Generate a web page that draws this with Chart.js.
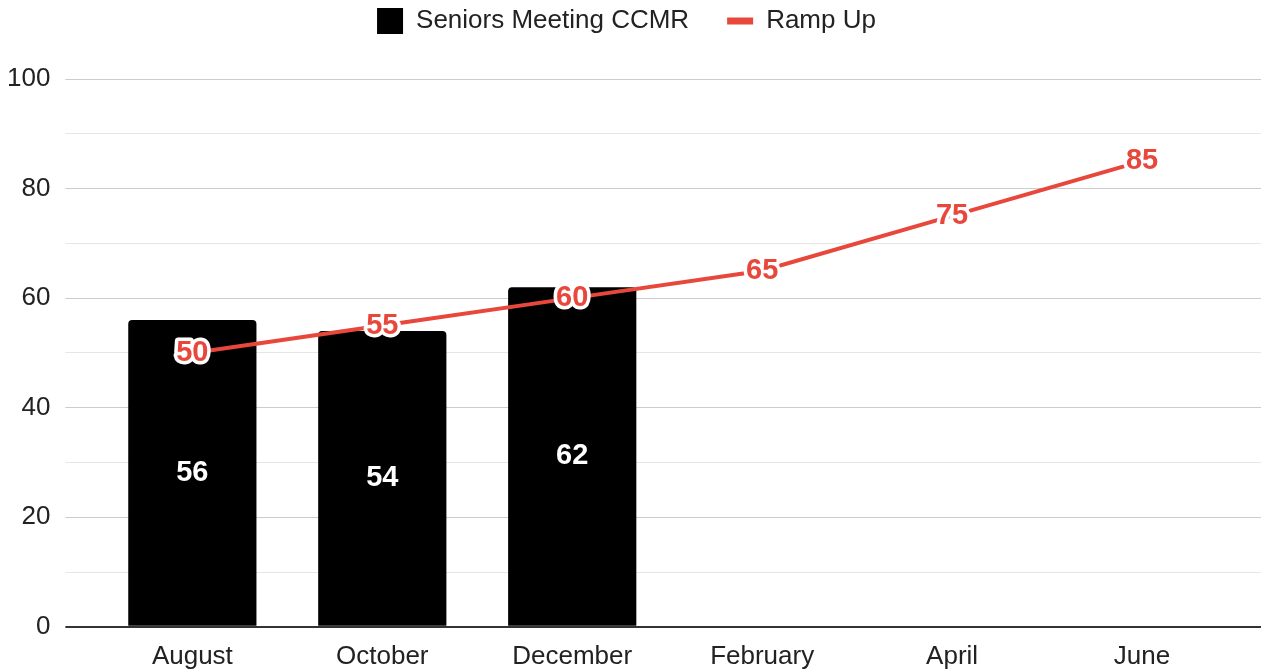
<!DOCTYPE html>
<html>
<head>
<meta charset="utf-8">
<script src="https://cdn.jsdelivr.net/npm/chart.js@4"></script>
<style>
html,body{margin:0;padding:0;background:#fff;}
</style>
</head>
<body>
<canvas id="myChart" width="1261" height="671"></canvas>
<script>
const months = ['August', 'October', 'December', 'February', 'April', 'June'];
const seniorsMeeting = [56, 54, 62, null, null, null];
const rampUp = [50, 55, 60, 65, 75, 85];

const RED = '#e8473b';
const FONT = "'Liberation Sans', Arial, sans-serif";

Chart.defaults.font.family = FONT;
Chart.defaults.font.size = 26;
Chart.defaults.color = '#222';

// push the plot down below the legend
const legendGap = {
    id: 'legendGap',
    beforeInit: function(chart) {
        const fit = chart.legend.fit;
        chart.legend.fit = function() {
            fit.bind(chart.legend)();
            this.height += 35;
        };
    }
};

// value labels on bars and line points
const valueLabels = {
    id: 'valueLabels',
    afterDatasetsDraw: function(chart) {
        const ctx = chart.ctx;
        ctx.save();
        ctx.font = "bold 29px " + FONT;
        ctx.textAlign = 'center';
        ctx.textBaseline = 'middle';
        chart.data.datasets.forEach(function(ds, i) {
            const meta = chart.getDatasetMeta(i);
            meta.data.forEach(function(el, j) {
                const v = ds.data[j];
                if (v == null) return;
                if (ds.type === 'bar') {
                    ctx.fillStyle = '#fff';
                    ctx.fillText(v, el.x, (el.y + el.base) / 2);
                } else {
                    ctx.lineWidth = 7;
                    ctx.lineJoin = 'round';
                    ctx.strokeStyle = '#fff';
                    ctx.strokeText(v, el.x, el.y);
                    ctx.fillStyle = RED;
                    ctx.fillText(v, el.x, el.y);
                }
            });
        });
        ctx.restore();
    }
};

function gridColor(c) {
    const v = c.tick ? c.tick.value : 1;
    if (v === 0) return '#333';
    return v % 20 === 0 ? '#cccccc' : '#e6e6e6';
}
function gridWidth(c) {
    return c.tick && c.tick.value === 0 ? 2 : 1;
}

const ctx = document.getElementById('myChart').getContext('2d');
window.myChart = new Chart(ctx, {
    data: {
        labels: months,
        datasets: [
            {
                type: 'bar',
                label: 'Seniors Meeting CCMR',
                data: seniorsMeeting,
                backgroundColor: '#000',
                borderWidth: 0,
                borderRadius: 4,
                borderSkipped: 'start',
                barPercentage: 0.675,
                categoryPercentage: 1,
                pointStyle: 'rect',
                order: 2
            },
            {
                type: 'line',
                label: 'Ramp Up',
                data: rampUp,
                borderColor: RED,
                backgroundColor: RED,
                borderWidth: 4,
                pointRadius: 0,
                tension: 0,
                fill: false,
                pointStyle: 'line',
                order: 1
            }
        ]
    },
    options: {
        responsive: false,
        animation: false,
        layout: { padding: { top: -30, left: -8, right: 0, bottom: -15 } },
        plugins: {
            tooltip: { enabled: false },
            legend: {
                position: 'top',
                labels: {
                    usePointStyle: true,
                    pointStyleWidth: 26,
                    padding: 38,
                    color: '#222',
                    font: { size: 26 },
                    sort: function(a, b) { return a.datasetIndex - b.datasetIndex; },
                    generateLabels: function(chart) {
                        return Chart.defaults.plugins.legend.labels.generateLabels(chart).map(function(l) {
                            if (l.pointStyle === 'line') {
                                l.lineWidth = 7;
                                l.strokeStyle = RED;
                            } else {
                                l.lineWidth = 0;
                                l.fillStyle = '#000';
                            }
                            return l;
                        });
                    }
                }
            }
        },
        scales: {
            x: {
                grid: { display: false, drawTicks: false },
                border: { display: false },
                ticks: { padding: 14, color: '#222' }
            },
            y: {
                position: 'left',
                min: 0,
                max: 100,
                ticks: {
                    stepSize: 10,
                    padding: 15,
                    color: '#222',
                    callback: function(v) { return v % 20 === 0 ? v : ''; }
                },
                grid: { color: gridColor, lineWidth: gridWidth, tickLength: 32 },
                border: { display: false }
            },
            y2: {
                position: 'right',
                min: 0,
                max: 100,
                ticks: { display: false, stepSize: 10 },
                grid: { color: gridColor, lineWidth: gridWidth, drawOnChartArea: false, tickLength: 24 },
                border: { display: false }
            }
        }
    },
    plugins: [legendGap, valueLabels]
});
</script>
</body>
</html>
